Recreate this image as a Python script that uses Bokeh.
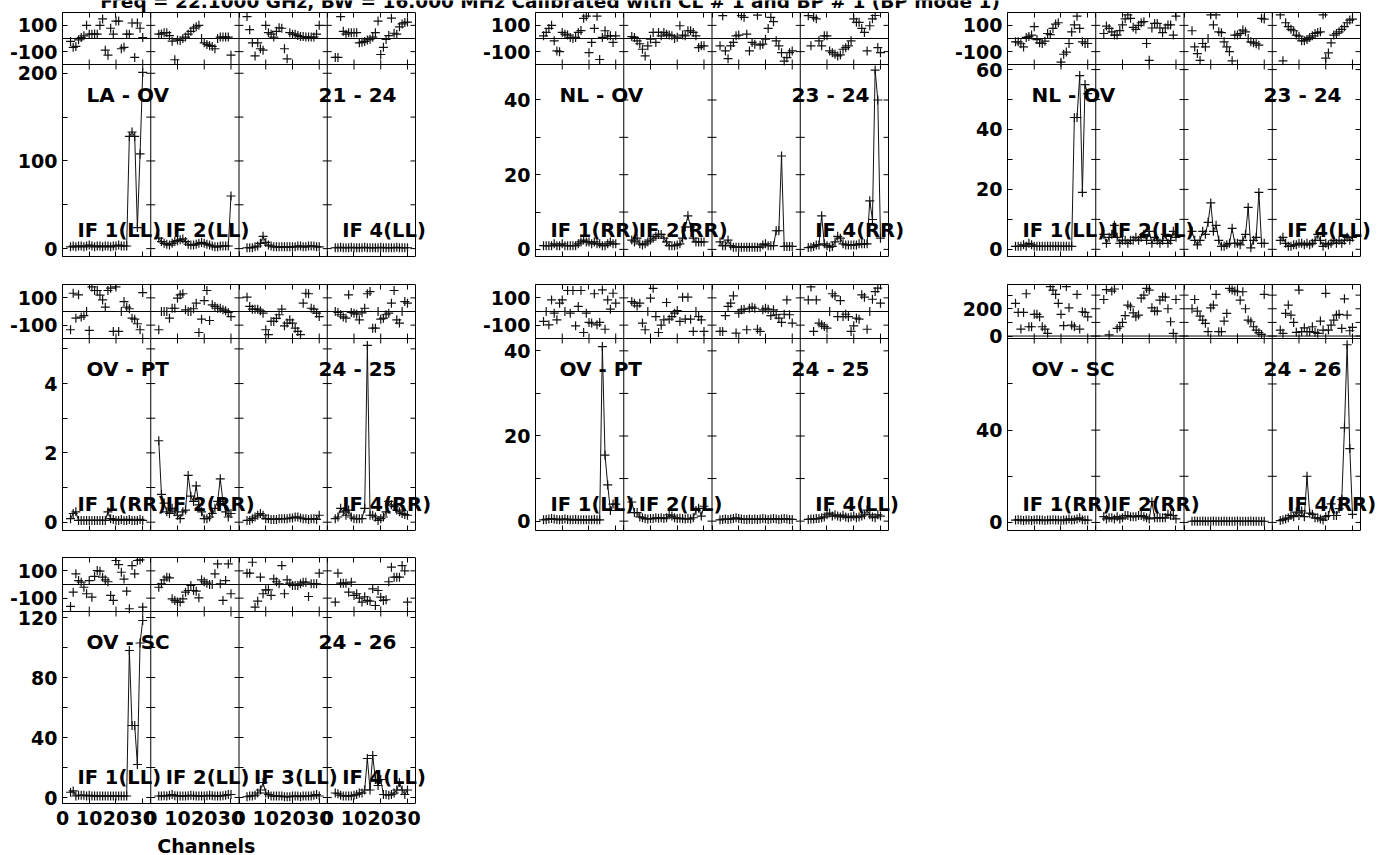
import math
from bokeh.plotting import figure
from bokeh.layouts import column, row
from bokeh.models import (FixedTicker, Span, Label, Range1d, LinearAxis,
                          CustomJSTickFormatter)
from bokeh.embed import file_html
from bokeh.resources import INLINE

# ---------------------------------------------------------------- texts / axes
TITLE = "Freq = 22.1000 GHz, BW = 16.000 MHz   Calibrated with CL # 1 and BP # 1 (BP mode 1)"
X_LABEL = "Channels"
CHANNELS = list(range(3, 31))          # plotted channels of every IF
CHANNEL_TICKS = [0, 10, 20, 30]
IF_SPAN = 33                           # channel extent of one IF box
N_IF = 4

# ---------------------------------------------------------------- LA - OV  (21 - 24)  LL
amp_laov_ll = [
    [2, 3, 2, 3, 3, 2, 3, 4, 3, 2, 3, 3, 2, 3, 3, 2, 3, 3, 4, 3, 3, 3, 128, 133, 128, 24, 108, 201],
    [12, 8, 6, 5, 4, 6, 8, 9, 10, 11, 8, 5, 4, 4, 5, 6, 7, 6, 5, 4, 3, 2, 2, 3, 3, 3, 3, 60],
    [1, 1, 1, 2, 3, 6, 14, 7, 4, 3, 2, 2, 2, 2, 2, 2, 2, 2, 2, 3, 3, 2, 2, 3, 3, 3, 2, 2],
    [1, 1, 1.5, 1, 1, 1, 1.5, 1, 1, 1, 1, 1.5, 1, 1, 1, 1, 1, 1.5, 1, 1, 1, 1, 1, 1.5, 1, 1, 1, 1],
]
phs_laov_ll = [
    [-22, -67, -60, -10, 7, 20, 100, 33, 33, 35, 33, 100, 149, -89, -127, 78, 33, 133, 133, -78, -67, 33, 33, 118, -144, 118, 78, 7],
    [33, 35, 44, 44, 22, -20, -162, -11, -15, 0, 11, 33, 55, 78, 89, 100, 0, -33, -45, -55, -60, -78, 0, 11, 11, 11, 11, -127],
    [167, 67, -33, -133, -33, -78, -89, 100, 44, 33, 11, 55, 82, 78, -78, -155, 44, 33, 33, 22, 15, 15, 11, 11, 11, 11, 33, 100],
    [-144, -144, 167, 55, 33, 44, 44, 44, 44, -33, -29, -22, -11, -5, 10, 44, 133, -122, -67, -7, 22, 155, 40, 33, 89, 111, 122, 125],
]

# ---------------------------------------------------------------- NL - OV  (23 - 24)  RR
amp_nlov_rr = [
    [1, 1, 1, 1, 1.5, 1, 1, 1.5, 1, 1, 1, 1, 1, 1.5, 2, 2.5, 2, 2, 1.5, 2, 1.5, 1.5, 1, 1, 1.5, 2, 1.5, 1.5],
    [2.5, 2, 3, 1.5, 1.2, 1.5, 2, 2.5, 3, 3.5, 4, 4, 3, 2, 1, 1, 1, 1.2, 1.5, 3, 6, 9, 6, 3, 2, 2, 2, 2],
    [2, 1, 1, 2.5, 1, 0.6, 0.6, 0.6, 0.6, 0.6, 0.6, 0.6, 0.6, 0.6, 0.6, 0.6, 1.2, 1.5, 1, 1, 1, 5, 5, 25, 0.8, 0.8, 0.8, 0.8],
    [0.5, 0.6, 0.8, 1.2, 1.2, 9, 1.5, 1, 0.6, 0.8, 2, 3.5, 3, 1.5, 1.2, 1.2, 1.2, 1.2, 1.2, 1.5, 1.5, 1.5, 1.5, 13, 8, 48, 40, 3],
]
phs_nlov_rr = [
    [20, 46, 77, 100, -18, -95, -100, 46, 33, 26, 8, 0, 8, 46, 60, 154, 170, -108, -30, 77, 170, -160, 8, 59, 20, 20, -30, 20],
    [15, 8, -18, -40, -82, -133, -56, -5, 46, -30, 46, 20, 46, 33, 26, 20, 0, 10, 97, 26, 20, 59, 59, 46, 20, -69, -56, -56],
    [-56, 174, -95, -154, -56, -30, 20, 26, 174, 161, 33, -95, -30, -43, 178, -51, -43, -5, 77, 161, 128, -18, -56, -108, -172, -146, -108, -95],
    [174, -56, 161, 150, -18, -56, 20, 20, -95, -108, -120, -133, -125, -82, -70, -56, -18, 150, 123, 123, 77, 46, -95, 97, 150, 175, -69, -108],
]

# ---------------------------------------------------------------- NL - OV  (23 - 24)  LL
amp_nlov_ll = [
    [1, 1, 1, 1.5, 1, 2, 1.5, 1, 1, 1, 1, 1, 1, 1, 1, 1, 1, 1, 1, 1, 1, 1, 44, 44, 58, 19, 55, 52],
    [5, 2, 4, 5, 8, 4, 2, 3, 3, 2, 3, 3, 4, 3, 4, 5, 3, 6, 2, 4, 3, 2, 3, 5, 2, 3, 6, 4],
    [6, 3, 1.5, 3, 6, 5, 9, 15.5, 6, 8, 3, 1, 1, 1.5, 2, 7, 2, 2, 1.5, 3, 5, 14, 0.5, 3, 4, 19, 2, 2],
    [3, 4, 2, 1, 1, 1.5, 1.5, 2, 2, 1.5, 2, 1.5, 2, 3, 5, 3, 1, 2, 1.5, 2, 3, 2, 3, 2, 3, 4, 3, 4],
]
phs_nlov_ll = [
    [-25, -25, -40, -64, 8, 15, 26, 90, -8, -33, -38, -20, 38, 30, 77, 110, 120, -180, -120, -103, -38, 50, 103, 170, 77, -25, -38, -38],
    [38, 95, 77, 51, 26, 26, 60, 103, 150, 180, 154, 85, 70, 100, 120, 128, -38, -166, 80, 115, 115, 80, 44, 80, 103, 103, 26, 170],
    [59, -64, -115, -166, -38, -64, 0, 180, 103, 180, 51, 44, -25, -64, -100, -170, 26, 26, 38, 64, 51, 0, -25, -33, -40, -51, 154, 148],
    [180, -170, 120, 90, 70, 59, 26, 18, -18, -18, -8, 8, 20, 38, 45, 51, 180, -150, -110, -33, 26, 38, 51, 70, 90, 120, 140, 148],
]

# ---------------------------------------------------------------- OV - PT  (24 - 25)  RR
amp_ovpt_rr = [
    [0.1, 0.25, 0.3, 0.05, 0.05, 0.05, 0.05, 0.05, 0.05, 0.05, 0.05, 0.05, 0.05, 0.05, 0.3, 0.1, 0.08, 0.05, 0.05, 0.08, 0.05, 0.05, 0.08, 0.05, 0.05, 0.05, 0.08, 0.05],
    [2.35, 0.8, 0.55, 0.3, 0.25, 0.4, 0.3, 0.2, 0.1, 0.3, 0.35, 1.35, 0.75, 0.6, 1.05, 0.5, 0.3, 0.1, 0.1, 0.15, 0.25, 0.4, 0.6, 1.25, 0.6, 0.3, 0.15, 0.25],
    [0.05, 0.05, 0.1, 0.15, 0.2, 0.25, 0.2, 0.1, 0.1, 0.08, 0.08, 0.08, 0.1, 0.1, 0.1, 0.1, 0.12, 0.12, 0.15, 0.15, 0.12, 0.1, 0.1, 0.08, 0.1, 0.1, 0.08, 0.2],
    [0.1, 0.15, 0.4, 0.3, 0.2, 0.35, 0.15, 0.1, 0.1, 0.1, 0.1, 0.4, 5.1, 0.2, 0.2, 0.15, 0.05, 0.1, 0.15, 0.3, 0.6, 0.5, 0.45, 0.35, 0.3, 0.25, 0.22, 0.2],
]
phs_ovpt_rr = [
    [-134, 134, -49, 122, -41, -30, 0, -139, 180, 154, 154, 120, 85, 32, 154, 171, -146, 180, -146, 0, 73, 32, 20, -49, -56, -90, -134, 139],
    [-134, 0, 0, 0, -49, 24, 24, 98, 122, 130, 12, 0, 0, 20, 61, -154, -56, 80, 154, -66, 49, 37, 24, 24, 12, 5, -7, -37],
    [105, 37, 17, 17, 17, 5, -12, -134, -170, -73, -73, -50, -24, 17, -105, -85, -61, -85, -122, -146, -170, 61, 134, 130, 24, 17, -12, -37],
    [0, -7, -24, -40, -49, 122, -7, -12, -20, -61, -10, 24, 130, 146, -122, -122, 0, -56, -49, -24, -12, 61, 154, -61, -85, 0, 73, 61],
]

# ---------------------------------------------------------------- OV - PT  (24 - 25)  LL
amp_ovpt_ll = [
    [0.3, 0.4, 0.5, 0.6, 0.5, 0.4, 0.3, 0.4, 0.5, 0.4, 0.3, 0.3, 0.4, 0.3, 0.3, 0.3, 0.3, 0.3, 0.3, 0.4, 0.3, 0.3, 41, 15.5, 8.5, 2.5, 4, 4],
    [4.5, 2, 2, 1, 0.8, 0.6, 0.5, 0.6, 0.6, 0.8, 0.7, 0.8, 0.6, 0.8, 1.5, 1.2, 0.8, 0.6, 0.7, 0.6, 0.5, 0.6, 0.5, 0.8, 2.5, 3, 1.2, 3.5],
    [0.3, 0.4, 0.5, 0.4, 0.5, 0.6, 0.8, 0.6, 0.5, 0.4, 0.4, 0.5, 0.4, 0.5, 0.4, 0.5, 0.6, 0.5, 0.4, 0.5, 0.6, 0.5, 0.4, 0.5, 0.6, 0.5, 0.4, 0.4],
    [0.4, 0.5, 0.5, 0.6, 0.6, 0.8, 1, 1.5, 1.9, 1.2, 1.5, 1.2, 1, 1.4, 1, 0.8, 1, 1.2, 0.8, 1, 1.2, 1.5, 2.6, 1.5, 1, 0.8, 1.5, 1.2],
]
phs_ovpt_ll = [
    [-73, 0, -98, 85, -12, -61, 61, 85, 0, 154, -12, 154, -105, 37, 154, -154, -12, -80, -85, 130, -98, -80, 158, -130, 85, 17, 134, 61],
    [73, 61, 41, 61, -85, -134, 0, 98, 170, -37, -154, -100, -61, 66, -56, -37, -12, 7, -73, 105, -56, 105, -56, -146, 0, -37, -61, -146],
    [-146, -146, -30, 37, 61, 115, -158, -12, 12, 17, -134, 24, 32, 24, -130, -146, 12, 24, 17, -30, 12, -24, -49, -80, -20, 85, -24, -85],
    [85, 180, -146, 85, -85, -98, -110, -122, 0, 130, 115, -37, 80, -37, -20, -37, -146, -105, -49, -56, 122, 105, -130, 0, 90, 146, 171, 61],
]

# ---------------------------------------------------------------- OV - SC  (24 - 26)  RR
amp_ovsc_rr = [
    [1, 1.2, 1, 0.8, 1, 1, 0.8, 1, 1.2, 1, 1, 0.8, 1, 1, 1.2, 1, 1, 0.8, 1, 1, 1.5, 1, 1.2, 1.5, 2, 1.2, 1, 1],
    [2.5, 1.5, 2, 2, 1.5, 2.5, 1.5, 2, 3, 3, 2.5, 2.5, 2.5, 3, 3, 2.5, 2, 1.5, 9, 2, 2, 2, 2, 2, 3.5, 3, 3, 1.5],
    [0.5, 0.6, 0.5, 0.5, 0.6, 0.5, 0.5, 0.5, 0.6, 0.5, 0.5, 0.5, 0.6, 0.5, 0.5, 0.5, 0.5, 0.6, 0.5, 0.5, 0.5, 0.5, 0.6, 0.5, 0.5, 0.5, 0.5, 0.5],
    [0.8, 1.2, 1.5, 2, 3, 2.5, 4.5, 3, 5, 2.5, 20, 4, 3.5, 2, 2, 1.5, 1, 2.5, 3, 8, 3, 3, 6, 10, 41, 77, 32, 3.5],
]
phs_ovsc_rr = [
    [240, 173, 51, 173, 310, 68, 68, 159, 159, 141, 68, 51, 20, 363, 337, 305, 240, 159, 76, 363, 207, 80, 68, 305, 51, 178, 173, 141],
    [268, 340, 8, 330, 345, 56, 68, 100, 150, 227, 215, 170, 141, 154, 278, 300, 349, 337, 207, 183, 183, 263, 288, 285, 200, 105, 20, 268],
    [200, 268, 183, 146, 117, 93, 32, 207, 227, 305, 32, 32, 110, 166, 349, 337, 330, 325, 263, 325, 200, 117, 105, 68, 44, 25, 12, 305],
    [44, 20, 166, 227, 154, 100, 27, 337, 32, 60, 32, 32, 68, 27, 20, 110, 44, 313, 44, 80, 117, 154, 159, 56, 273, 154, 39, 63],
]

# ---------------------------------------------------------------- OV - SC  (24 - 26)  LL
amp_ovsc_ll = [
    [3.5, 4.4, 1, 1.5, 1.5, 1.5, 1, 1.5, 1, 1, 1, 1, 1, 1, 1, 1, 1, 1, 1, 1, 1, 1, 98, 48, 48, 22, 103, 118],
    [1, 1, 1.2, 1, 1.5, 2, 1.2, 1, 1, 1, 1, 1.2, 1.5, 1.2, 1, 1, 1, 1, 1.2, 1.5, 1.2, 1, 1, 1, 1.2, 1.5, 2, 2],
    [0.5, 1, 1, 1.5, 3, 5, 10, 3, 2, 1, 1, 1, 1, 1, 0.5, 0.5, 0.5, 1, 1, 1, 0.5, 1, 1, 1, 1, 1.5, 2, 1],
    [3, 2.5, 1.5, 1, 1, 1, 1, 1.5, 2, 3, 3, 5, 26, 5, 28, 12, 8, 12, 2, 2, 1.5, 2, 3, 5, 10, 5, 2, 5],
]
phs_ovsc_ll = [
    [-161, -56, 78, 29, 17, -20, -68, 29, -93, 60, 102, 98, 54, 34, 20, -80, -117, 176, 146, 90, 40, -49, -178, 139, 78, 176, 180, -166],
    [-20, 5, 34, 54, 49, -105, -117, -129, -129, -105, -56, -44, -7, -44, -49, -98, 34, 20, 10, 0, 0, 78, 151, 5, -117, 29, 151, -68],
    [83, 83, 163, -166, -122, 54, -68, -39, -39, -80, 41, 20, 5, 139, -68, 34, 10, -7, -7, -7, 5, 17, 17, -88, 5, 5, 5, 83],
    [-129, 83, 10, 10, 10, -56, 17, -80, -68, -100, -129, -90, -117, -122, -32, -154, -44, -93, -117, -112, 20, 127, 54, 54, 54, 139, 100, -129],
]

# ---------------------------------------------------------------- style
FONT = "DejaVu Sans"
INK = "#000000"
BOX_W = 353          # width of the boxed plot area
AMP_PX = 192
TICK_FONT = "19px"
LABEL_FONT = "20px"
IF_FONT = "19.5px"
XMAX = N_IF * IF_SPAN
BASE_FIX = 5         # px: Label baselines are drawn this much lower than asked


def y_formatter(pos, lab):
    return CustomJSTickFormatter(args=dict(pos=pos, lab=lab), code="""
        for (let i = 0; i < pos.length; i++) {
            if (Math.abs(tick - pos[i]) < 1e-6 * Math.max(1, Math.abs(pos[i]))) { return lab[i]; }
        }
        return "";
    """)


def style_axis(ax, show_labels):
    ax.axis_line_color = INK
    ax.axis_line_width = 1
    ax.major_tick_in = 5
    ax.major_tick_out = 0
    ax.minor_tick_in = 5
    ax.minor_tick_out = 0
    ax.major_tick_line_color = INK
    ax.minor_tick_line_color = INK
    if show_labels:
        ax.major_label_text_font = FONT
        ax.major_label_text_font_style = "bold"
        ax.major_label_text_font_size = TICK_FONT
        ax.major_label_text_color = INK
    else:
        ax.major_label_text_font_size = "0px"
        ax.major_label_standoff = 0


def make_panel(amp, phs, amp_range, amp_major, amp_minor, phs_range, phs_major, phs_minor,
               base_text, ant_text, pol, if_shown, ph_px, b_left, ext, b_right, b_bottom,
               bottom_labels=False):
    alo, ahi = amp_range
    plo, phi = phs_range
    a_px = (ahi - alo) / AMP_PX
    p_px = (phi - plo) / ph_px
    top = ahi + ph_px * a_px
    x_px = XMAX / BOX_W          # channels per pixel

    def p2a(v):
        return ahi + (v - plo) / p_px * a_px

    p = figure(frame_width=BOX_W + ext, frame_height=ph_px + AMP_PX,
               min_border_left=b_left, min_border_right=b_right,
               min_border_top=0, min_border_bottom=b_bottom,
               x_range=Range1d(0, XMAX + ext * x_px), y_range=Range1d(alo, top),
               output_backend="svg", toolbar_location=None)
    p.extra_y_ranges = {"phase": Range1d(plo - AMP_PX * p_px, phi)}
    p.grid.visible = False
    p.outline_line_color = None
    p.background_fill_color = "white"
    p.border_fill_color = "white"

    # ticks
    xt = [k * IF_SPAN + t for k in range(N_IF) for t in CHANNEL_TICKS]
    ymaj = list(amp_major) + [p2a(v) for v in phs_major]
    ymin = list(amp_minor) + [p2a(v) for v in phs_minor]
    ylab = [str(v) for v in amp_major] + [str(v) for v in phs_major]
    yticker = FixedTicker(ticks=ymaj, minor_ticks=ymin)
    x_labelled = FixedTicker(ticks=xt)
    x_plain = FixedTicker(ticks=[], minor_ticks=xt)     # tick marks without label texts

    p.yaxis.ticker = yticker
    p.yaxis.formatter = y_formatter(ymaj, ylab)
    style_axis(p.yaxis[0], True)
    p.yaxis.major_label_standoff = 5

    p.xaxis.bounds = (0, XMAX)
    style_axis(p.xaxis[0], bottom_labels)
    if bottom_labels:
        p.xaxis.ticker = x_labelled
        p.xaxis.major_label_overrides = {k * IF_SPAN + t: str(t)
                                         for k in range(N_IF) for t in CHANNEL_TICKS}
        p.xaxis.major_label_standoff = 7
    else:
        p.xaxis.ticker = x_plain

    ta = LinearAxis(ticker=x_plain, bounds=(0, XMAX))
    style_axis(ta, False)
    p.add_layout(ta, "above")

    # right edge of the box, IF separators, phase/amp boundary, zero-phase line
    for k in range(1, N_IF + 1):
        p.add_layout(Span(location=k * IF_SPAN, dimension="height", line_color=INK, line_width=1))
    p.segment(x0=[0], y0=[ahi], x1=[XMAX], y1=[ahi], line_color=INK, line_width=1)
    p.segment(x0=[0], y0=[0], x1=[XMAX], y1=[0], line_color=INK, line_width=1,
              y_range_name="phase")

    # tick marks crossing the inner separators, on the right edge and on the boundary
    seps = [k * IF_SPAN for k in range(1, N_IF)]
    ally = ymaj + ymin
    p.scatter([s for s in seps for _ in ally], [y for _ in seps for y in ally],
              marker="dash", size=9, line_color=INK, line_width=1)
    p.scatter([XMAX - 2.5 * x_px] * len(ally), ally,
              marker="dash", size=5, line_color=INK, line_width=1)
    bx = [k * IF_SPAN + t for k in range(N_IF) for t in CHANNEL_TICKS if t > 0]
    p.scatter(bx, [ahi] * len(bx), marker="dash", angle=math.pi / 2, size=10,
              line_color=INK, line_width=1)

    # data
    for k in range(N_IF):
        xs = [k * IF_SPAN + c for c in CHANNELS]
        p.line(xs, amp[k], line_color="#111111", line_width=1)
        p.scatter(xs, amp[k], marker="cross", size=9, line_color="#111111", line_width=1.2)
        p.scatter(xs, phs[k], marker="cross", size=9, line_color="#111111", line_width=1.2,
                  y_range_name="phase")

    # annotations
    ty = ahi - (35 - BASE_FIX) * a_px
    p.add_layout(Label(x=24 * x_px, y=ty, text=base_text, text_font=FONT, text_font_style="bold",
                       text_font_size=LABEL_FONT, text_align="left", text_baseline="alphabetic",
                       text_color=INK))
    p.add_layout(Label(x=XMAX - 19 * x_px, y=ty, text=ant_text, text_font=FONT,
                       text_font_style="bold", text_font_size=LABEL_FONT, text_align="right",
                       text_baseline="alphabetic", text_color=INK))
    iy = alo + (21 + BASE_FIX) * a_px
    for k in if_shown:
        p.add_layout(Label(x=k * IF_SPAN + 15 * x_px, y=iy, text=f"IF {k + 1}({pol})",
                           text_font=FONT, text_font_style="bold", text_font_size=IF_FONT,
                           text_align="left", text_baseline="alphabetic", text_color=INK))
    return p


def text_strip(width, height, text, x, y, size, align):
    f = figure(width=width, height=height, x_range=Range1d(0, width), y_range=Range1d(0, height),
               min_border=0, output_backend="svg", toolbar_location=None,
               x_axis_type=None, y_axis_type=None)
    f.grid.visible = False
    f.outline_line_color = None
    f.background_fill_color = "white"
    f.border_fill_color = "white"
    f.add_layout(Label(x=x, y=y, text=text, text_font=FONT, text_font_style="bold",
                       text_font_size=size, text_align=align, text_baseline="alphabetic",
                       text_color=INK))
    return f


PH180 = (-198, 198)
# columns: (left border, extension for overflowing labels, right border)
C1 = (62, 18, 42)
C2 = (60, 18, 41)
C3 = (60, 16, 2)

p1 = make_panel(amp_laov_ll, phs_laov_ll, (-9, 210), [0, 100, 200], [50, 150], PH180, [-100, 100], [],
                "LA - OV", "21 - 24", "LL", [0, 1, 3], 52, *C1, 28)
p2 = make_panel(amp_nlov_rr, phs_nlov_rr, (-1.9, 49.5), [0, 20, 40], [10, 30], PH180, [-100, 100], [],
                "NL - OV", "23 - 24", "RR", [0, 1, 3], 52, *C2, 28)
p3 = make_panel(amp_nlov_ll, phs_nlov_ll, (-2.4, 61.7), [0, 20, 40, 60], [10, 30, 50], PH180, [-100, 100], [],
                "NL - OV", "23 - 24", "LL", [0, 1, 3], 52, *C3, 28)

p4 = make_panel(amp_ovpt_rr, phs_ovpt_rr, (-0.24, 5.3), [0, 2, 4], [1, 3, 5], PH180, [-100, 100], [],
                "OV - PT", "24 - 25", "RR", [0, 1, 3], 54, *C1, 27)
p5 = make_panel(amp_ovpt_ll, phs_ovpt_ll, (-2.2, 42.9), [0, 20, 40], [10, 30], PH180, [-100, 100], [],
                "OV - PT", "24 - 25", "LL", [0, 1, 3], 54, *C2, 27)
p6 = make_panel(amp_ovsc_rr, phs_ovsc_rr, (-3.5, 79.7), [0, 40], [20, 60], (-18, 378), [0, 200], [100, 300],
                "OV - SC", "24 - 26", "RR", [0, 1, 3], 54, *C3, 27)

p7 = make_panel(amp_ovsc_ll, phs_ovsc_ll, (-4, 124), [0, 40, 80, 120], [20, 60, 100], PH180, [-100, 100], [],
                "OV - SC", "24 - 26", "LL", [0, 1, 2, 3], 54, *C1, 30, bottom_labels=True)

# title strip: the title sits mostly above the page top, as in the original
tfig = text_strip(1378, 12, TITLE, 556, 12 - 6 + BASE_FIX, "18.5px", "center")
# axis caption under the bottom-left panel
cfig = text_strip(C1[0] + BOX_W + C1[1] + C1[2], 22, X_LABEL, 184, 5 + BASE_FIX, "19px", "center")

layout = column(tfig, row(p1, p2, p3), row(p4, p5, p6), column(p7, cfig))

open("out.html", "w").write(file_html(layout, INLINE))
